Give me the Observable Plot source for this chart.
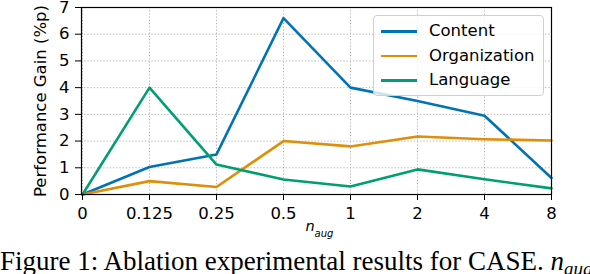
<!DOCTYPE html>
<html>
<head>
<meta charset="utf-8">
<script src="https://cdn.jsdelivr.net/npm/d3@7"></script>
<script src="https://cdn.jsdelivr.net/npm/@observablehq/plot@0.6"></script>
<style>
  html, body { margin: 0; padding: 0; background: white; }
  #wrap { position: relative; width: 590px; height: 274px; overflow: hidden; }
  #legend {
    position: absolute; left: 373px; top: 15px; width: 169px; height: 79px;
    border: 1px solid #d0d0d0; border-radius: 4px; background: rgba(255,255,255,0.8);
    font-family: "DejaVu Sans"; font-size: 16.5px; color: black;
  }
  .item { position: absolute; left: 0; height: 20px; }
  .swatch { position: absolute; left: 7px; width: 36px; height: 2.6px; top: 9px; }
  .lab { position: absolute; left: 55px; top: 0; line-height: 20px; white-space: nowrap; }
  #caption {
    position: absolute; left: 0; top: 246px; width: 590px; height: 30px; line-height: 30px;
    font-family: "Liberation Serif"; font-size: 27px; white-space: nowrap; color: black;
  }
  #caption sub { font-size: 19px; vertical-align: -5px; line-height: 0; }
</style>
</head>
<body>
<div id="wrap">
  <div id="chart"></div>
  <div id="legend"></div>
  <div id="caption">Figure 1: Ablation experimental results for CASE. <i>n</i><sub><i>aug</i></sub></div>
</div>
<script>
const categories = ["0", "0.125", "0.25", "0.5", "1", "2", "4", "8"];
const content = [0, 1.03, 1.5, 6.6, 4.0, 3.5, 2.95, 0.62];
const organization = [0, 0.5, 0.28, 2.0, 1.8, 2.17, 2.07, 2.02];
const language = [0, 4.0, 1.12, 0.56, 0.3, 0.94, 0.57, 0.23];
const seriesNames = ["Content", "Organization", "Language"];
const seriesColors = ["#0173B2", "#DE8F05", "#029E73"];
const yTicks = [0, 1, 2, 3, 4, 5, 6, 7];
const yLabel = "Performance Gain (%p)";

const seriesValues = [content, organization, language];
const data = [];
seriesNames.forEach((name, i) => {
  categories.forEach((c, j) => data.push({x: c, y: seriesValues[i][j], series: name}));
});

const chart = Plot.plot({
  width: 590,
  height: 240,
  marginLeft: 81,
  marginRight: 39,
  marginTop: 7,
  marginBottom: 46,
  style: {fontFamily: "DejaVu Sans", fontSize: "16.5px", color: "black", background: "white", overflow: "visible"},
  x: {type: "point", domain: categories, padding: 0},
  y: {domain: [0, 7]},
  color: {domain: seriesNames, range: seriesColors},
  marks: [
    Plot.gridX({stroke: "#b0b0b0", strokeOpacity: 1, strokeWidth: 1, strokeDasharray: "1.2,2"}),
    Plot.gridY(yTicks, {stroke: "#b0b0b0", strokeOpacity: 1, strokeWidth: 1, strokeDasharray: "1.2,2"}),
    Plot.line(data, {x: "x", y: "y", z: "series", stroke: "series", strokeWidth: 2.6}),
    Plot.frame({stroke: "black", strokeWidth: 1.2}),
    Plot.axisX({tickSize: 6, tickPadding: 7, label: null, fontSize: 16.5}),
    Plot.axisY(yTicks, {tickSize: 6, tickPadding: 6, label: null, fontSize: 16.5}),
    Plot.text([yLabel], {frameAnchor: "left", text: d => d, rotate: -90, dx: -41, textAnchor: "middle", lineAnchor: "middle", fontSize: 16.5}),
    Plot.text(["n"], {frameAnchor: "bottom", text: d => d, dx: -11, dy: 36, textAnchor: "start", lineAnchor: "bottom", fontStyle: "italic", fontSize: 14.5}),
    Plot.text(["aug"], {frameAnchor: "bottom", text: d => d, dx: -2, dy: 42, textAnchor: "start", lineAnchor: "bottom", fontStyle: "italic", fontSize: 10})
  ]
});
document.getElementById("chart").appendChild(chart);

const legend = document.getElementById("legend");
seriesNames.forEach((name, i) => {
  const item = document.createElement("div");
  item.className = "item";
  item.style.top = (5 + i * 24.5) + "px";
  const sw = document.createElement("div");
  sw.className = "swatch";
  sw.style.background = seriesColors[i];
  const lab = document.createElement("div");
  lab.className = "lab";
  lab.textContent = name;
  item.appendChild(sw);
  item.appendChild(lab);
  legend.appendChild(item);
});
</script>
</body>
</html>
